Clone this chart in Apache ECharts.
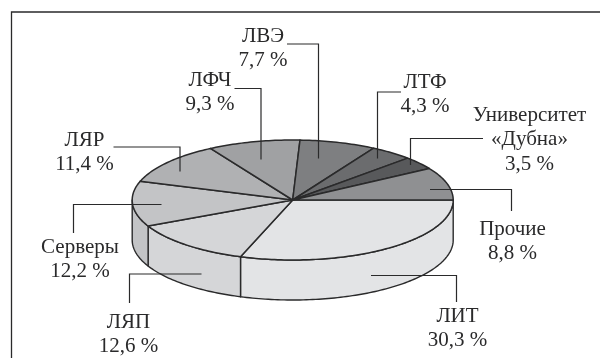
<!DOCTYPE html>
<html>
<head>
<meta charset="utf-8">
<style>html,body{margin:0;padding:0;background:#fff}#chart{width:600px;height:358px}</style>
<script src="https://cdn.jsdelivr.net/npm/echarts@6/dist/echarts.min.js"></script>
</head>
<body>
<div id="chart"></div>
<script>
// Shares of the budget by division, clockwise from the 3 o'clock direction.
const categories = ['ЛИТ', 'ЛЯП', 'Серверы', 'ЛЯР', 'ЛФЧ', 'ЛВЭ', 'ЛТФ', 'Университет\n«Дубна»', 'Прочие'];
const shares = [30.3, 12.6, 12.2, 11.4, 9.3, 7.7, 4.3, 3.5, 8.8];
const shares_text = ['30,3 %', '12,6 %', '12,2 %', '11,4 %', '9,3 %', '7,7 %', '4,3 %', '3,5 %', '8,8 %'];
const shades = ['#e3e4e6', '#d5d6d8', '#c3c4c6', '#b0b1b3', '#a0a1a3', '#7e7f81', '#6b6c6e', '#58595b', '#8f9092'];

// Callout layout: text centre of the first row, and the leader's polyline.
const callouts = [
  { x: 457.5, y: 315, line: [[371, 275.5], [456.5, 275.5], [456.5, 302]] },
  { x: 128.5, y: 321, line: [[201.5, 274], [129.5, 274], [129.5, 303]] },
  { x: 80,  y: 246, line: [[161.5, 204.5], [73.5, 204.5], [73.5, 233]] },
  { x: 84.5,  y: 139, line: [[113.5, 147], [180, 147], [180, 171.5]] },
  { x: 210, y: 79,  line: [[234.5, 88.5], [261, 88.5], [261, 159.5]] },
  { x: 263, y: 35,  line: [[287, 44], [318.5, 44], [318.5, 158.5]] },
  { x: 425, y: 81,  line: [[401, 92], [377.5, 92], [377.5, 158.5]] },
  { x: 529.5, y: 114, line: [[483, 138.5], [410.5, 138.5], [410.5, 165]] },
  { x: 512.5, y: 228, line: [[430, 189.5], [511.5, 189.5], [511.5, 211]] }
];

const INK = '#2a2a2b';
const DEPTH = 2 / 3;          // wall height in units of the minor radius
const total = shares.reduce((a, b) => a + b, 0);

// Cumulative angular extents of every slice.
let acc = 0;
const slices = shares.map((v, i) => {
  const start = acc / total * Math.PI * 2;
  acc += v;
  return [i, start, acc / total * Math.PI * 2];
});

function arcPoints(api, a0, a1, drop) {
  const n = Math.max(2, Math.ceil((a1 - a0) / 0.02));
  const pts = [];
  for (let k = 0; k <= n; k++) {
    const a = a0 + (a1 - a0) * k / n;
    pts.push(api.coord([Math.cos(a), Math.sin(a) + drop]));
  }
  return pts;
}

function renderTop(params, api) {
  const i = api.value(0), a0 = api.value(1), a1 = api.value(2);
  const points = [api.coord([0, 0])].concat(arcPoints(api, a0, a1, 0));
  return {
    type: 'polygon',
    shape: { points },
    style: { fill: shades[i], stroke: INK, lineWidth: 1.5, lineJoin: 'round' }
  };
}

function renderWall(params, api) {
  const i = api.value(0), a0 = api.value(1), a1 = Math.min(api.value(2), Math.PI);
  if (a0 >= Math.PI) return null;
  const upper = arcPoints(api, a0, a1, 0);
  const lower = arcPoints(api, a0, a1, DEPTH).reverse();
  return {
    type: 'polygon',
    shape: { points: upper.concat(lower) },
    style: { fill: shades[i], stroke: INK, lineWidth: 1.4, lineJoin: 'round' }
  };
}

const leaders = callouts.map(c => ({
  type: 'polyline', z: 50,
  shape: { points: c.line },
  style: { fill: null, stroke: INK, lineWidth: 1.2 }
}));

const texts = callouts.map((c, i) => ({
  type: 'text', z: 50, x: c.x, y: c.y - 11,
  style: {
    text: categories[i] + '\n' + shares_text[i],
    fill: INK,
    font: '21px "Liberation Serif"',
    lineHeight: 24.5,
    align: 'center',
    verticalAlign: 'top'
  }
}));

const frame = {
  type: 'polyline', z: 1,
  shape: { points: [[11.5, 358], [11.5, 12], [600, 12]] },
  style: { fill: null, stroke: INK, lineWidth: 1.3 }
};

const chart = echarts.init(document.getElementById('chart'), null, { renderer: 'canvas' });
chart.setOption({
  animation: false,
  backgroundColor: '#ffffff',
  // The unit circle on these axes projects to the tilted disc of the pie.
  grid: { left: 132.2, width: 321, top: 140, height: 160 },
  xAxis: { type: 'value', min: -1, max: 1, show: false },
  yAxis: { type: 'value', min: -1, max: 1 + DEPTH, inverse: true, show: false },
  series: [
    { type: 'custom', coordinateSystem: 'cartesian2d', renderItem: renderWall, data: slices, z: 2, clip: false, silent: true },
    { type: 'custom', coordinateSystem: 'cartesian2d', renderItem: renderTop, data: slices, z: 3, clip: false, silent: true }
  ],
  graphic: { elements: [frame].concat(leaders, texts) }
});
</script>
</body>
</html>
